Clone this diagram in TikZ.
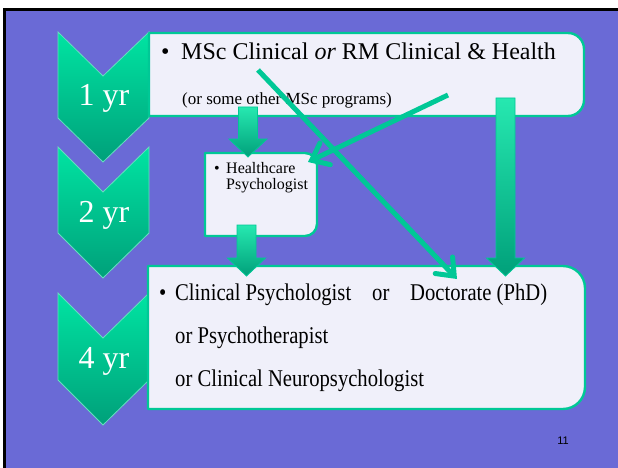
\documentclass[tikz,border=0pt]{standalone}
\usepackage{fontspec}
\setmainfont{Liberation Serif}
\newfontfamily\condserif[FakeStretch=0.86]{Liberation Serif}
\newfontfamily\pagesans{Liberation Sans}
\usetikzlibrary{arrows.meta,calc}
\definecolor{bgpurple}{RGB}{106,106,214}
\definecolor{boxfill}{RGB}{240,240,250}
\definecolor{boxline}{RGB}{0,200,150}
\definecolor{gtop}{RGB}{0,228,162}
\definecolor{gbot}{RGB}{0,160,122}
\definecolor{athin}{RGB}{0,200,150}
\newcommand\blockarr[2]{%
  \draw[blockarrow] ($(#1)+(-9.5,0)$) -- ($(#1)+(9.5,0)$) -- ($(#2)+(9.5,-18)$)
    -- ($(#2)+(19,-18)$) -- (#2) -- ($(#2)+(-19,-18)$) -- ($(#2)+(-9.5,-18)$) -- cycle;}
\begin{document}
\begin{tikzpicture}[x=1pt,y=-1pt,
  chev/.style={top color=gtop,bottom color=gbot,draw=boxline!60!white,line width=0.8pt},
  boxshape/.style={fill=boxfill,draw=boxline,line width=2.4pt,line join=round},
  blockarrow/.style={top color=gtop!85!white,bottom color=gbot,draw=boxline,line width=0.8pt,line join=miter},
  thinarrow/.style={draw=athin,line width=5pt,-{Straight Barb[length=15pt,width=24pt,line cap=round]}},
  yrtext/.style={text=white,font=\fontsize{32}{32}\selectfont,anchor=base,inner sep=0pt},
  txtbig/.style={font=\fontsize{24}{24}\selectfont,anchor=base west,inner sep=0pt},
  txtcond/.style={font=\condserif\fontsize{24}{24}\selectfont,anchor=base west,inner sep=0pt},
  txtsub/.style={font=\fontsize{17}{17}\selectfont,anchor=base west,inner sep=0pt},
  txtsmall/.style={font=\fontsize{16}{16}\selectfont,anchor=base west,inner sep=0pt}
]
\useasboundingbox (0,0) rectangle (618,468);
% background
\fill[white] (0,0) rectangle (618,468);
\fill[black] (3,8) rectangle (618,468);
\fill[bgpurple] (6,11) rectangle (618,468);
% chevrons
\path[chev] (58,32) -- (103,76) -- (149,32) -- (149,118) -- (103,162) -- (58,118) -- cycle;
\path[chev] (58,147) -- (103,192) -- (149,147) -- (149,233) -- (103,278) -- (58,233) -- cycle;
\path[chev] (58,293) -- (103,338) -- (149,293) -- (149,380) -- (103,425) -- (58,380) -- cycle;
\node[yrtext] (y1) at (104,106) {1 yr};
\node[yrtext] (y2) at (104,222) {2 yr};
\node[yrtext] (y4) at (104,368) {4 yr};
% boxes
\path[boxshape] (149,33) -- (568,33) .. controls (576.8,33) and (584,40.2) .. (584,49)
  -- (584,100) .. controls (584,108.8) and (576.8,116) .. (568,116) -- (149,116) -- cycle;
\path[boxshape] (205,153) -- (305,153) .. controls (311.6,153) and (317,158.4) .. (317,165)
  -- (317,224) .. controls (317,230.6) and (311.6,236) .. (305,236) -- (205,236) -- cycle;
\path[boxshape] (148,266) -- (563,266) .. controls (575.1,266) and (585,275.9) .. (585,288)
  -- (585,387) .. controls (585,399.1) and (575.1,409) .. (563,409) -- (148,409) -- cycle;
% box texts
\node[txtbig] (b1bul) at (161,60) {•};
\node[txtbig] (b1t) at (181,60) {MSc Clinical \textit{or} RM Clinical \& Health};
\node[txtsub] (b1s) at (182,105) {(or some other MSc programs)};
\node[txtsmall] (b2bul) at (214,173) {•};
\node[txtsmall] (b2t) at (226,173) {Healthcare};
\node[txtsmall] (b2u) at (226,189) {Psychologist};
\node[txtcond] (b3bul) at (159,300) {•};
\node[txtcond] (b3a) at (175,300) {Clinical Psychologist};
\node[txtcond] (b3or) at (372,300) {or};
\node[txtcond] (b3b) at (410,300) {Doctorate (PhD)};
\node[txtcond] (b3c) at (175,343) {or Psychotherapist};
\node[txtcond] (b3d) at (175,386) {or Clinical Neuropsychologist};
% block arrows
\coordinate (a1t) at (248,107); \coordinate (a1h) at (248,157);
\coordinate (a2t) at (246.5,225); \coordinate (a2h) at (246.5,276);
\coordinate (a3t) at (505.5,98); \coordinate (a3h) at (505.5,276);
\blockarr{a1t}{a1h}
\blockarr{a2t}{a2h}
\blockarr{a3t}{a3h}
% thin arrows
\coordinate (t1s) at (258,70); \coordinate (t1e) at (457,279);
\coordinate (t2s) at (448,95); \coordinate (t2e) at (308,162);
\draw[thinarrow] (t1s) -- (t1e);
\draw[thinarrow] (t2s) -- (t2e);
% page number
\node[font=\pagesans\fontsize{11}{11}\selectfont,inner sep=0pt] (pg) at (563,441) {11};
\end{tikzpicture}
\end{document}
